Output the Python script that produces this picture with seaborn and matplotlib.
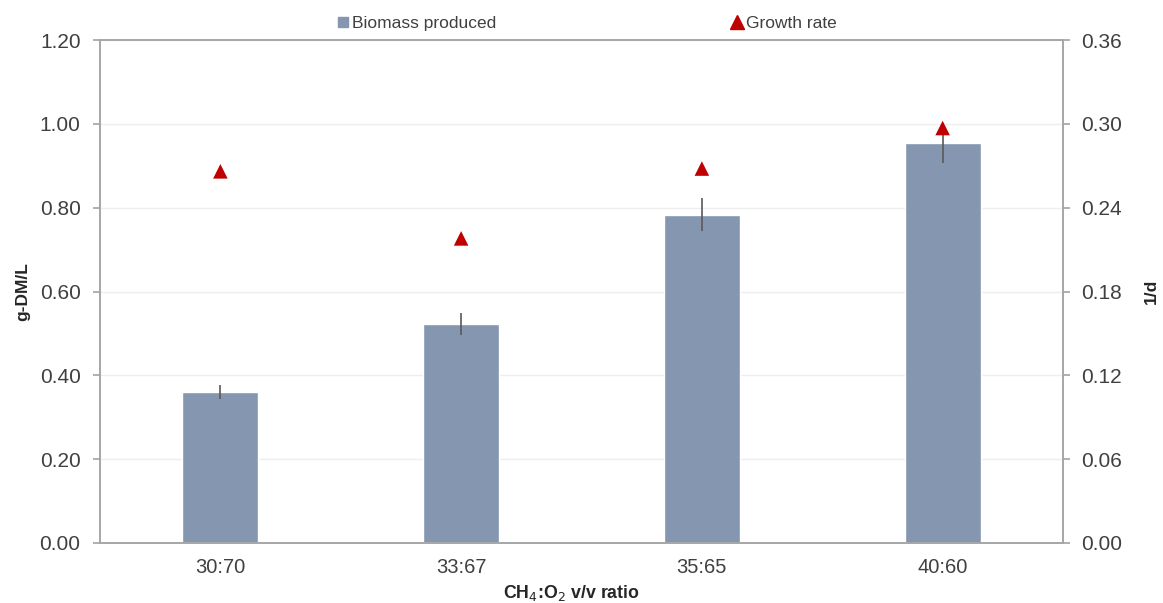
import matplotlib
matplotlib.use("Agg")
import matplotlib.pyplot as plt
import seaborn as sns
import pandas as pd
from matplotlib.lines import Line2D

ratios = ["30:70", "33:67", "35:65", "40:60"]
biomass = [0.360, 0.523, 0.783, 0.954]
biomass_err = [0.017, 0.026, 0.039, 0.047]
growth_rate = [0.266, 0.218, 0.268, 0.297]

sns.set_theme(style="white")
plt.rcParams['font.family'] = ['Liberation Sans', 'DejaVu Sans']

df = pd.DataFrame({"ratio": ratios, "biomass": biomass, "growth": growth_rate})

fig = plt.figure(figsize=(11.63, 6.03), dpi=100)
ax = fig.add_axes([100/1163, 60/603, 963/1163, 503/603])

bar_color = "#8496B0"
grey = "#A6A6A6"
sns.barplot(data=df, x="ratio", y="biomass", color=bar_color, width=0.315,
            ax=ax, saturation=1, errorbar=None, zorder=2)
ax.errorbar(range(len(ratios)), biomass, yerr=biomass_err, fmt="none",
            ecolor="#595959", elinewidth=1.2, capsize=0, zorder=3)

ticks1 = [0, 0.2, 0.4, 0.6, 0.8, 1.0, 1.2]
ax.set_ylim(0, 1.2)
ax.set_yticks(ticks1)
ax.set_yticklabels([f"{v:.2f}" for v in ticks1])
ax.set_xlim(-0.5, 3.5)
ax.yaxis.grid(True, color="#EEEEEE", linewidth=1)
ax.set_axisbelow(True)
for s in ax.spines.values():
    s.set_color(grey)
    s.set_linewidth(1.2)
ax.tick_params(axis="y", which="both", left=True, length=5, color=grey,
               labelsize=15, labelcolor="#404040", pad=9)
ax.tick_params(axis="x", bottom=False, labelsize=14.5, labelcolor="#404040", pad=5)
ax.set_ylabel("g-DM/L", fontsize=12.5, fontweight="bold", color="#262626", labelpad=7)
ax.set_xlabel("CH$_4$:O$_2$ v/v ratio", fontsize=12.8, fontweight="bold", color="#262626", labelpad=4)
ax.xaxis.label.set_x(0.49)

ax2 = ax.twinx()
sns.scatterplot(data=df, x="ratio", y="growth", marker="^", color="#C00000",
                s=110, edgecolor="none", ax=ax2, zorder=4)
ax2.set_ylim(0, 0.36)
ticks2 = [0, 0.06, 0.12, 0.18, 0.24, 0.30, 0.36]
ax2.set_yticks(ticks2)
ax2.set_yticklabels([f"{v:.2f}" for v in ticks2])
ax2.set_ylabel("1/d", fontsize=12.5, fontweight="bold", color="#262626", labelpad=16)
ax2.tick_params(axis="y", right=True, length=5, color=grey,
                labelsize=15, labelcolor="#404040", pad=8)
for s in ax2.spines.values():
    s.set_color(grey)
    s.set_linewidth(1.2)
ax2.grid(False)

handles = [
    Line2D([], [], marker="s", linestyle="none", color=bar_color, markersize=7),
    Line2D([], [], marker="^", linestyle="none", color="#C00000", markersize=10),
]
fig.legend(handles, ["Biomass produced", "Growth rate"], loc="center",
           bbox_to_anchor=(586/1163, 1 - 23/603), ncol=2, frameon=False,
           fontsize=12.5, handletextpad=0.1, columnspacing=13.4, handlelength=0.9,
           labelcolor="#404040")

fig.savefig("out.png", dpi=100)
